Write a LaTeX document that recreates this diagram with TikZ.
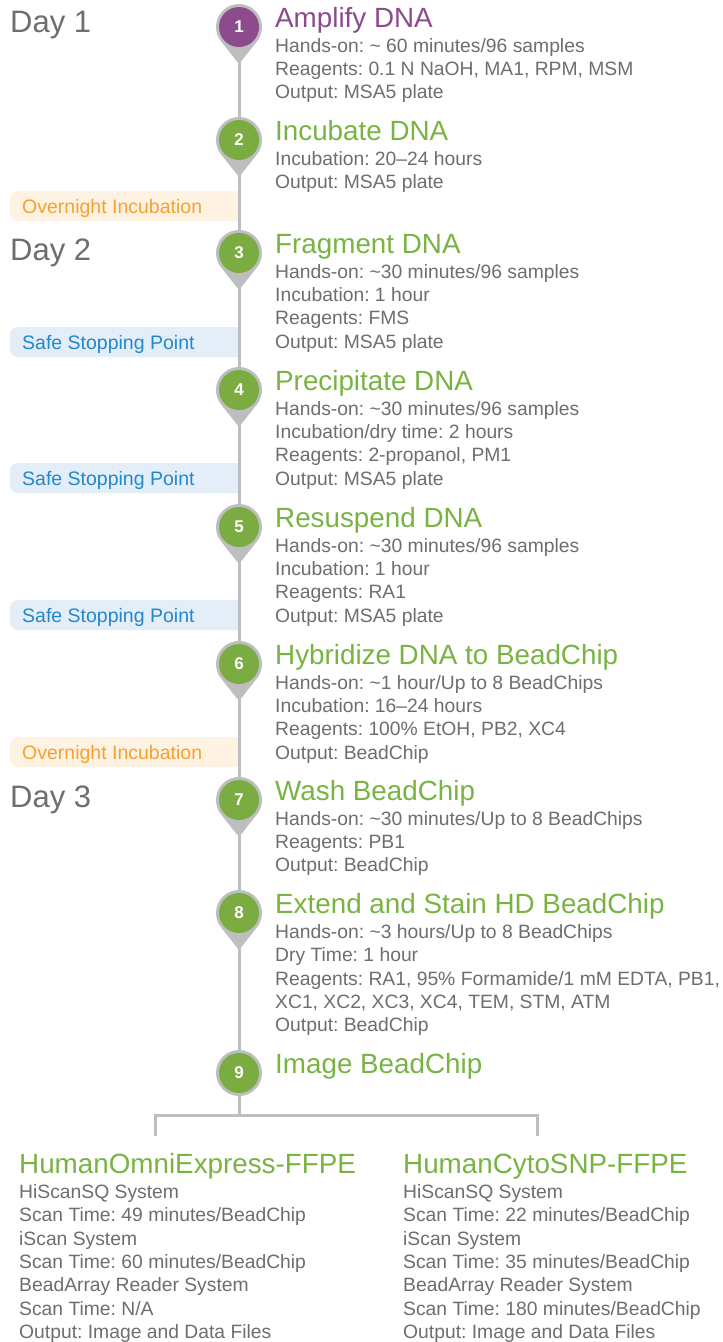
\documentclass[tikz,border=0pt]{standalone}
\usepackage{fontspec}
\setmainfont{Liberation Sans}
\frenchspacing
\usetikzlibrary{calc,backgrounds}
\definecolor{linegray}{HTML}{BCBEC0}
\definecolor{stepgreen}{HTML}{7BAC41}
\definecolor{titlegreen}{HTML}{79B443}
\definecolor{steppurple}{HTML}{8C4B8D}
\definecolor{txtgray}{HTML}{6D6E71}
\definecolor{daygray}{HTML}{6D6E71}
\definecolor{ortext}{HTML}{F7A030}
\definecolor{orfill}{HTML}{FEF3E2}
\definecolor{bltext}{HTML}{2288CC}
\definecolor{blfill}{HTML}{E4EEF8}
\newcommand\pinat[1]{\fill[linegray] (#1) ++(-38.4:23) arc[start angle=-38.4,end angle=218.4,radius=23] -- ($(#1)+(0,-37)$) -- cycle;}
\newcommand\labbox[2]{\fill[#2] (239,#1+15) -- (18,#1+15) arc[start angle=90,end angle=180,radius=8] -- (10,#1-7) arc[start angle=180,end angle=270,radius=8] -- (239,#1-15) -- cycle;}
\begin{document}
\begin{tikzpicture}[x=1pt,y=1pt,
  stepc/.style={circle, minimum size=40, inner sep=0, text=white, fill=stepgreen, font=\bfseries\fontsize{17}{17}\selectfont},
  ttl/.style={anchor=base west, inner sep=0, text=titlegreen, font=\fontsize{27.8}{27.8}\selectfont},
  bdy/.style={anchor=north west, inner sep=0, align=left, text=txtgray, font=\fontsize{19.3}{23.33}\selectfont},
  day/.style={anchor=base west, inner sep=0, text=daygray, font=\fontsize{31}{31}\selectfont},
  lab/.style={anchor=base west, inner sep=0, font=\fontsize{19.5}{19.5}\selectfont},
  tl/.style={draw=linegray, line width=3}]
\useasboundingbox (0,0) rectangle (723,-1342);
% coordinates of step centres
\coordinate (c1) at (239,-27);
\coordinate (c2) at (239,-140);
\coordinate (c3) at (239,-253);
\coordinate (c4) at (239,-390);
\coordinate (c5) at (239,-527);
\coordinate (c6) at (239,-664);
\coordinate (c7) at (239,-800);
\coordinate (c8) at (239,-913);
\coordinate (c9) at (239,-1073);
% pins
\pinat{c1}\pinat{c2}\pinat{c3}\pinat{c4}\pinat{c5}\pinat{c6}\pinat{c7}\pinat{c8}
\fill[linegray] (c9) circle[radius=23];
% step circles
\node[stepc, fill=steppurple] (s1) at (c1) {1};
\node[stepc] (s2) at (c2) {2};
\node[stepc] (s3) at (c3) {3};
\node[stepc] (s4) at (c4) {4};
\node[stepc] (s5) at (c5) {5};
\node[stepc] (s6) at (c6) {6};
\node[stepc] (s7) at (c7) {7};
\node[stepc] (s8) at (c8) {8};
\node[stepc] (s9) at (c9) {9};
% day labels
\node[day] (d1) at (10,-32) {Day 1};
\node[day] (d2) at (10,-260) {Day 2};
\node[day] (d3) at (10,-807) {Day 3};
% titles
\node[ttl, text=steppurple] (t1) at (275,-27) {Amplify DNA};
\node[ttl] (t2) at (275,-140) {Incubate DNA};
\node[ttl] (t3) at (275,-253) {Fragment DNA};
\node[ttl] (t4) at (275,-390) {Precipitate DNA};
\node[ttl] (t5) at (275,-527) {Resuspend DNA};
\node[ttl] (t6) at (275,-664) {Hybridize DNA to BeadChip};
\node[ttl] (t7) at (275,-800) {Wash BeadChip};
\node[ttl] (t8) at (275,-913) {Extend and Stain HD BeadChip};
\node[ttl] (t9) at (275,-1073) {Image BeadChip};
% bodies
\node[bdy] (b1) at (275,-37.9) {\rule{0pt}{14pt}Hands-on: \textasciitilde{} 60 minutes/96 samples\\Reagents: 0.1 N NaOH, MA1, RPM, MSM\\Output: MSA5 plate};
\node[bdy] (b2) at (275,-150.9) {\rule{0pt}{14pt}Incubation: 20\textendash24 hours\\Output: MSA5 plate};
\node[bdy] (b3) at (275,-263.9) {\rule{0pt}{14pt}Hands-on: \textasciitilde30 minutes/96 samples\\Incubation: 1 hour\\Reagents: FMS\\Output: MSA5 plate};
\node[bdy] (b4) at (275,-400.9) {\rule{0pt}{14pt}Hands-on: \textasciitilde30 minutes/96 samples\\Incubation/dry time: 2 hours\\Reagents: 2-propanol, PM1\\Output: MSA5 plate};
\node[bdy] (b5) at (275,-537.9) {\rule{0pt}{14pt}Hands-on: \textasciitilde30 minutes/96 samples\\Incubation: 1 hour\\Reagents: RA1\\Output: MSA5 plate};
\node[bdy] (b6) at (275,-674.9) {\rule{0pt}{14pt}Hands-on: \textasciitilde1 hour/Up to 8 BeadChips\\Incubation: 16\textendash24 hours\\Reagents: 100\% EtOH, PB2, XC4\\Output: BeadChip};
\node[bdy] (b7) at (275,-810.9) {\rule{0pt}{14pt}Hands-on: \textasciitilde30 minutes/Up to 8 BeadChips\\Reagents: PB1\\Output: BeadChip};
\node[bdy] (b8) at (275,-924.4) {\rule{0pt}{14pt}Hands-on: \textasciitilde3 hours/Up to 8 BeadChips\\Dry Time: 1 hour\\Reagents: RA1, 95\% Formamide/1 mM EDTA, PB1,\\XC1, XC2, XC3, XC4, TEM, STM, ATM\\Output: BeadChip};
% bottom products
\node[ttl] (pl) at (19,-1173) {HumanOmniExpress-FFPE};
\node[bdy] (plb) at (19,-1184.4) {\rule{0pt}{14pt}HiScanSQ System\\Scan Time: 49 minutes/BeadChip\\iScan System\\Scan Time: 60 minutes/BeadChip\\BeadArray Reader System\\Scan Time: N/A\\Output: Image and Data Files};
\node[ttl] (pr) at (403,-1173) {HumanCytoSNP-FFPE};
\node[bdy] (prb) at (403,-1184.4) {\rule{0pt}{14pt}HiScanSQ System\\Scan Time: 22 minutes/BeadChip\\iScan System\\Scan Time: 35 minutes/BeadChip\\BeadArray Reader System\\Scan Time: 180 minutes/BeadChip\\Output: Image and Data Files};
% side labels text
\node[lab, text=ortext] (o1) at (22,-213) {Overnight Incubation};
\node[lab, text=bltext] (p1) at (22,-349) {Safe Stopping Point};
\node[lab, text=bltext] (p2) at (22,-485) {Safe Stopping Point};
\node[lab, text=bltext] (p3) at (22,-622) {Safe Stopping Point};
\node[lab, text=ortext] (o2) at (22,-759) {Overnight Incubation};
% bracket coordinates
\coordinate (bm) at (239,-1115);
\coordinate (bl) at (155,-1115);
\coordinate (br) at (537,-1115);
\coordinate (bld) at (155,-1136);
\coordinate (brd) at (537,-1136);
\begin{scope}[on background layer]
\fill[white] (0,0) rectangle (723,-1342);
\labbox{-206}{orfill}
\labbox{-342}{blfill}
\labbox{-478}{blfill}
\labbox{-615}{blfill}
\labbox{-752}{orfill}
\draw[tl] (s1) -- (s2) -- (s3) -- (s4) -- (s5) -- (s6) -- (s7) -- (s8) -- (s9);
\draw[tl] (s9) -- (bm);
\draw[tl] (bld) -- (bl) -- (br) -- (brd);
\end{scope}
\end{tikzpicture}
\end{document}
